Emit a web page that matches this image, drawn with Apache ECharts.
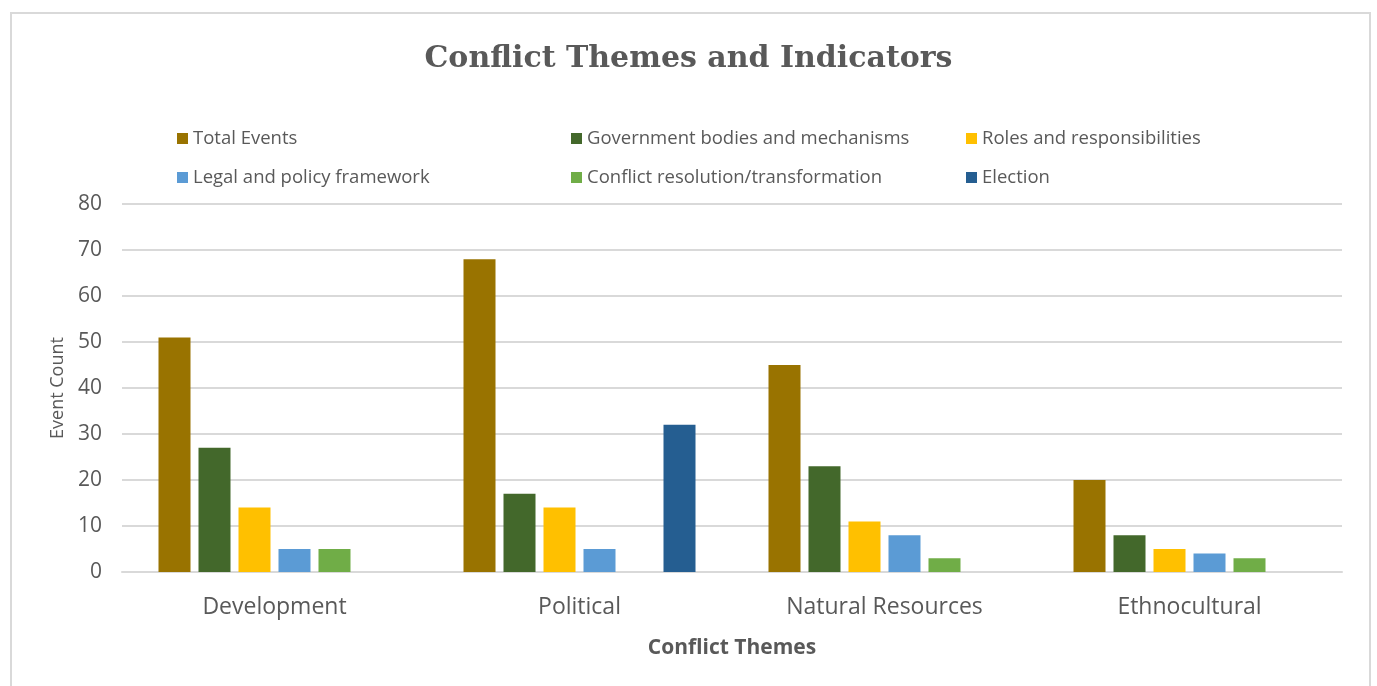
<!DOCTYPE html>
<html>
<head>
<meta charset="utf-8">
<script src="https://cdn.jsdelivr.net/npm/echarts@6/dist/echarts.min.js"></script>
<style>
  html, body { margin: 0; padding: 0; background: #fff; }
  #frame { position: absolute; left: 10px; top: 12px; width: 1361px; height: 700px; border: 2px solid #d9d9d9; box-sizing: border-box; }
  #chart { position: absolute; left: 0; top: 0; width: 1377px; height: 686px; }
</style>
</head>
<body>
<div id="frame"></div>
<div id="chart"></div>
<script>
const categories = ['Development', 'Political', 'Natural Resources', 'Ethnocultural'];
const seriesNames = [
  'Total Events',
  'Government bodies and mechanisms',
  'Roles and responsibilities',
  'Legal and policy framework',
  'Conflict resolution/transformation',
  'Election'
];
const totalEvents = [51, 68, 45, 20];
const governmentBodies = [27, 17, 23, 8];
const rolesResponsibilities = [14, 14, 11, 5];
const legalPolicy = [5, 5, 8, 4];
const conflictResolution = [5, 0, 3, 3];
const election = [0, 32, 0, 0];
const yTicks = [0, 10, 20, 30, 40, 50, 60, 70, 80];

const seriesValues = [totalEvents, governmentBodies, rolesResponsibilities, legalPolicy, conflictResolution, election];
const colors = ['#997300', '#43682b', '#ffc000', '#5b9bd5', '#70ad47', '#255e91'];

const textGrey = '#595959';
const sansFont = '"Open Sans", "Noto Sans", sans-serif';

// Legend laid out as a 3-column grid, one legend block per entry
const legendCols = [177, 571, 966];
const legendRows = [129, 168];
const legends = seriesNames.map((name, i) => ({
  data: [name],
  left: legendCols[i % 3],
  top: legendRows[Math.floor(i / 3)],
  padding: 0,
  itemWidth: 11,
  itemHeight: 11,
  itemGap: 0,
  icon: 'rect',
  selectedMode: false,
  textStyle: { color: textGrey, fontFamily: sansFont, fontSize: 18.5, padding: [0, 0, 0, 0] }
}));

const chart = echarts.init(document.getElementById('chart'), null, { renderer: 'canvas' });
chart.setOption({
  animation: false,
  color: colors,
  title: {
    text: 'Conflict Themes and Indicators',
    left: 'center',
    top: 44,
    padding: 0,
    textStyle: { color: textGrey, fontFamily: '"DejaVu Serif", serif', fontWeight: 'bold', fontSize: 30 }
  },
  legend: legends,
  grid: { left: 122, right: 35, top: 204, bottom: 114 },
  xAxis: {
    type: 'category',
    data: categories,
    name: 'Conflict Themes',
    nameLocation: 'middle',
    nameGap: 66,
    nameTextStyle: { color: textGrey, fontFamily: sansFont, fontSize: 21, fontWeight: 'bold' },
    axisLine: { lineStyle: { color: '#d9d9d9', width: 2 } },
    axisTick: { show: false },
    axisLabel: { color: textGrey, fontFamily: sansFont, fontSize: 23, margin: 24 }
  },
  yAxis: {
    type: 'value',
    min: yTicks[0],
    max: yTicks[yTicks.length - 1],
    interval: 10,
    name: 'Event Count',
    nameLocation: 'middle',
    nameGap: 55,
    nameTextStyle: { color: textGrey, fontFamily: sansFont, fontSize: 18 },
    axisLine: { show: false },
    axisTick: { show: false },
    axisLabel: { color: textGrey, fontFamily: sansFont, fontSize: 21, margin: 20 },
    splitLine: { lineStyle: { color: '#d9d9d9', width: 2 } }
  },
  series: seriesNames.map((name, i) => ({
    name: name,
    type: 'bar',
    data: seriesValues[i],
    barWidth: 32,
    barGap: '25%',
    itemStyle: { color: colors[i] }
  }))
});
</script>
</body>
</html>
